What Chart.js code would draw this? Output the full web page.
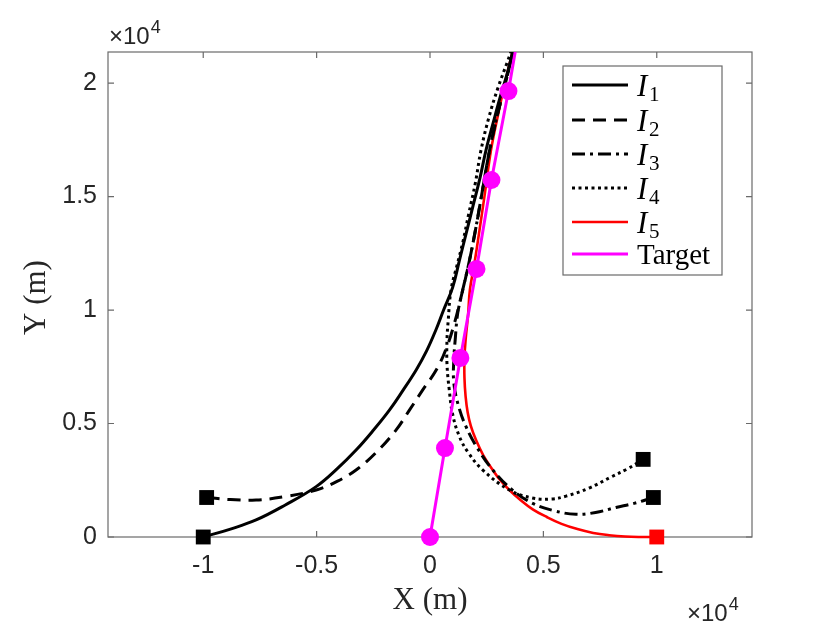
<!DOCTYPE html>
<html>
<head>
<meta charset="utf-8">
<script src="https://cdn.jsdelivr.net/npm/chart.js@4.4.1/dist/chart.umd.min.js"></script>
<style>
  html, body { margin: 0; padding: 0; background: #fff; }
  #chart { display: block; }
</style>
</head>
<body>
<canvas id="chart" width="830" height="623"></canvas>
<script>
// all positions in units of 10^4 m
const X_TICKS = [-1, -0.5, 0, 0.5, 1];
const Y_TICKS = [0, 0.5, 1, 1.5, 2];

const I1_X = [-1, -0.88, -0.767, -0.64, -0.502, -0.41, -0.326, -0.25, -0.179, -0.12, -0.061, -0.015, 0.025, 0.06, 0.1, 0.13, 0.16, 0.19, 0.22, 0.247, 0.28, 0.31, 0.34, 0.38];
const I1_Y = [0, 0.035, 0.075, 0.14, 0.222, 0.3, 0.383, 0.47, 0.559, 0.645, 0.736, 0.82, 0.91, 1.0, 1.1, 1.22, 1.34, 1.46, 1.58, 1.705, 1.83, 1.94, 2.04, 2.2];

const I2_X = [-0.985, -0.88, -0.767, -0.64, -0.502, -0.41, -0.326, -0.24, -0.15, -0.09, -0.032, 0.03, 0.075, 0.11, 0.14, 0.17, 0.2, 0.23, 0.258, 0.29, 0.32, 0.35, 0.38];
const I2_Y = [0.174, 0.165, 0.163, 0.178, 0.207, 0.245, 0.295, 0.37, 0.471, 0.56, 0.648, 0.74, 0.84, 0.95, 1.07, 1.2, 1.35, 1.52, 1.68, 1.83, 1.95, 2.07, 2.2];

const I3_X = [0.985, 0.9, 0.82, 0.73, 0.644, 0.55, 0.453, 0.36, 0.277, 0.21, 0.159, 0.125, 0.105, 0.105, 0.112, 0.122, 0.14, 0.17, 0.2, 0.23, 0.258, 0.29, 0.32, 0.35, 0.38];
const I3_Y = [0.174, 0.148, 0.13, 0.108, 0.1, 0.115, 0.148, 0.21, 0.295, 0.39, 0.486, 0.58, 0.68, 0.78, 0.88, 0.985, 1.07, 1.2, 1.35, 1.52, 1.68, 1.83, 1.95, 2.07, 2.2];

const I4_X = [0.94, 0.87, 0.8, 0.7, 0.6, 0.535, 0.45, 0.35, 0.233, 0.17, 0.13, 0.1, 0.085, 0.075, 0.075, 0.08, 0.093, 0.12, 0.145, 0.17, 0.2, 0.225, 0.26, 0.3, 0.34, 0.38];
const I4_Y = [0.342, 0.3, 0.265, 0.215, 0.18, 0.167, 0.172, 0.207, 0.295, 0.37, 0.442, 0.54, 0.648, 0.76, 0.87, 0.95, 1.09, 1.2, 1.3, 1.42, 1.56, 1.705, 1.85, 1.98, 2.09, 2.2];

const I5_X = [1, 0.93, 0.86, 0.79, 0.72, 0.65, 0.58, 0.515, 0.453, 0.4, 0.35, 0.31, 0.277, 0.235, 0.203, 0.18, 0.166, 0.157, 0.152, 0.152, 0.158, 0.168, 0.176, 0.195, 0.215, 0.24, 0.269, 0.3, 0.335, 0.38];
const I5_Y = [0, 0, 0.002, 0.008, 0.018, 0.035, 0.058, 0.088, 0.122, 0.162, 0.207, 0.25, 0.295, 0.36, 0.427, 0.49, 0.55, 0.62, 0.7, 0.79, 0.88, 0.98, 1.09, 1.2, 1.33, 1.5, 1.705, 1.86, 2.02, 2.2];

const TARGET_X = [0, 0.066, 0.134, 0.205, 0.271, 0.346, 0.414];
const TARGET_Y = [0, 0.392, 0.789, 1.181, 1.573, 1.965, 2.36];

const SERIES_NAMES = ['1', '2', '3', '4', '5', 'Target'];

const X_MIN = -1.42, X_MAX = 1.42;
const Y_MIN = 0, Y_MAX = 2.137;

function toPoints(xs, ys) {
    return xs.map((x, i) => ({ x: x, y: ys[i] }));
}

// square marker only on the start point
function startMarker(ctx) {
    return ctx.dataIndex === 0 ? 10.5 : 0;
}

const clipArea = { left: 12, right: 12, top: 0, bottom: 12 };

function pathDataset(label, xs, ys, color, dash, width) {
    return {
        label: label,
        data: toPoints(xs, ys),
        showLine: true,
        borderColor: color,
        backgroundColor: color,
        borderWidth: width,
        borderDash: dash,
        borderCapStyle: 'butt',
        borderJoinStyle: 'round',
        pointStyle: 'rect',
        pointRadius: startMarker,
        pointBorderWidth: 0,
        pointBackgroundColor: color,
        tension: 0.4,
        clip: clipArea,
        order: 1
    };
}

const datasets = [
    pathDataset('I1', I1_X, I1_Y, '#000', [], 3),
    pathDataset('I2', I2_X, I2_Y, '#000', [13, 8], 3),
    pathDataset('I3', I3_X, I3_Y, '#000', [13, 5, 3, 5], 3),
    pathDataset('I4', I4_X, I4_Y, '#000', [3, 3.5], 3),
    pathDataset('I5', I5_X, I5_Y, '#ff0000', [], 2.6),
    {
        label: 'Target',
        data: toPoints(TARGET_X, TARGET_Y),
        showLine: true,
        borderColor: '#ff00ff',
        backgroundColor: '#ff00ff',
        borderWidth: 3,
        pointStyle: 'circle',
        pointRadius: 9,
        pointBorderWidth: 0,
        pointBackgroundColor: '#ff00ff',
        tension: 0,
        clip: clipArea,
        order: 0
    }
];

// draw base text followed by a raised exponent
function drawPower(ctx, base, exp, x, y) {
    ctx.font = '24px "Liberation Sans", Arial, sans-serif';
    ctx.fillText(base, x, y);
    const w = ctx.measureText(base).width;
    ctx.font = '18px "Liberation Sans", Arial, sans-serif';
    ctx.fillText(exp, x + w + 1, y - 11);
}

// axes box, inward ticks, labels and legend, drawn like the MATLAB figure
const figurePlugin = {
    id: 'figure',
    beforeDatasetsDraw(chart) {
        const ctx = chart.ctx;
        const a = chart.chartArea;
        const xs = chart.scales.x, ys = chart.scales.y;
        ctx.save();
        ctx.strokeStyle = '#6a6a6a';
        ctx.lineWidth = 1.2;
        ctx.strokeRect(a.left, a.top, a.right - a.left, a.bottom - a.top);
        ctx.beginPath();
        X_TICKS.forEach(v => {
            const px = xs.getPixelForValue(v);
            ctx.moveTo(px, a.bottom); ctx.lineTo(px, a.bottom - 6);
            ctx.moveTo(px, a.top); ctx.lineTo(px, a.top + 6);
        });
        Y_TICKS.forEach(v => {
            const py = ys.getPixelForValue(v);
            ctx.moveTo(a.left, py); ctx.lineTo(a.left + 6, py);
            ctx.moveTo(a.right, py); ctx.lineTo(a.right - 6, py);
        });
        ctx.stroke();
        ctx.restore();
    },
    afterDraw(chart) {
        const ctx = chart.ctx;
        const a = chart.chartArea;
        ctx.save();
        ctx.fillStyle = '#262626';

        // axis titles
        ctx.font = '31px "Liberation Serif", serif';
        ctx.textAlign = 'center';
        ctx.textBaseline = 'middle';
        ctx.fillText('X (m)', (a.left + a.right) / 2, 601);
        ctx.save();
        ctx.translate(37, (a.top + a.bottom) / 2 + 3);
        ctx.rotate(-Math.PI / 2);
        ctx.fillText('Y (m)', 0, 0);
        ctx.restore();

        // exponent labels
        ctx.textAlign = 'left';
        ctx.textBaseline = 'alphabetic';
        drawPower(ctx, '\u00d710', '4', 109, 44);
        drawPower(ctx, '\u00d710', '4', 687, 621);

        // legend
        const box = { left: 563, top: 66, right: 722, bottom: 275 };
        ctx.fillStyle = '#fff';
        ctx.fillRect(box.left, box.top, box.right - box.left, box.bottom - box.top);
        ctx.strokeStyle = '#6a6a6a';
        ctx.lineWidth = 1.2;
        ctx.strokeRect(box.left, box.top, box.right - box.left, box.bottom - box.top);
        const rowY = [85, 120, 154, 188, 222, 254];
        chart.data.datasets.forEach((ds, i) => {
            const y = rowY[i];
            ctx.strokeStyle = ds.borderColor;
            ctx.lineWidth = ds.borderWidth;
            ctx.setLineDash(ds.borderDash || []);
            ctx.beginPath();
            ctx.moveTo(572, y);
            ctx.lineTo(628, y);
            ctx.stroke();
            ctx.setLineDash([]);
            ctx.fillStyle = '#000';
            ctx.textBaseline = 'alphabetic';
            if (SERIES_NAMES[i] === 'Target') {
                ctx.font = '29px "Liberation Serif", serif';
                ctx.fillText('Target', 637, y + 10);
            } else {
                ctx.font = 'italic 31px "Liberation Serif", serif';
                ctx.fillText('I', 637, y + 11);
                ctx.font = '21px "Liberation Serif", serif';
                ctx.fillText(SERIES_NAMES[i], 649, y + 16);
            }
        });
        ctx.restore();
    }
};

new Chart(document.getElementById('chart'), {
    type: 'scatter',
    data: { datasets: datasets },
    options: {
        responsive: false,
        animation: false,
        layout: { padding: { left: 0, top: 52, right: 78, bottom: 0 } },
        plugins: {
            legend: { display: false },
            tooltip: { enabled: false }
        },
        scales: {
            x: {
                type: 'linear',
                min: X_MIN,
                max: X_MAX,
                afterBuildTicks: s => { s.ticks = X_TICKS.map(v => ({ value: v })); },
                afterFit: s => { s.height = 86; },
                grid: { display: false, drawTicks: false },
                border: { display: false },
                ticks: {
                    padding: 14,
                    color: '#262626',
                    font: { family: '"Liberation Sans", Arial, sans-serif', size: 25 },
                    callback: v => String(v)
                }
            },
            y: {
                type: 'linear',
                min: Y_MIN,
                max: Y_MAX,
                afterBuildTicks: s => { s.ticks = Y_TICKS.map(v => ({ value: v })); },
                afterFit: s => { s.width = 108; },
                grid: { display: false, drawTicks: false },
                border: { display: false },
                ticks: {
                    padding: 11,
                    color: '#262626',
                    font: { family: '"Liberation Sans", Arial, sans-serif', size: 25 },
                    callback: v => String(v)
                }
            }
        }
    },
    plugins: [figurePlugin]
});
</script>
</body>
</html>
